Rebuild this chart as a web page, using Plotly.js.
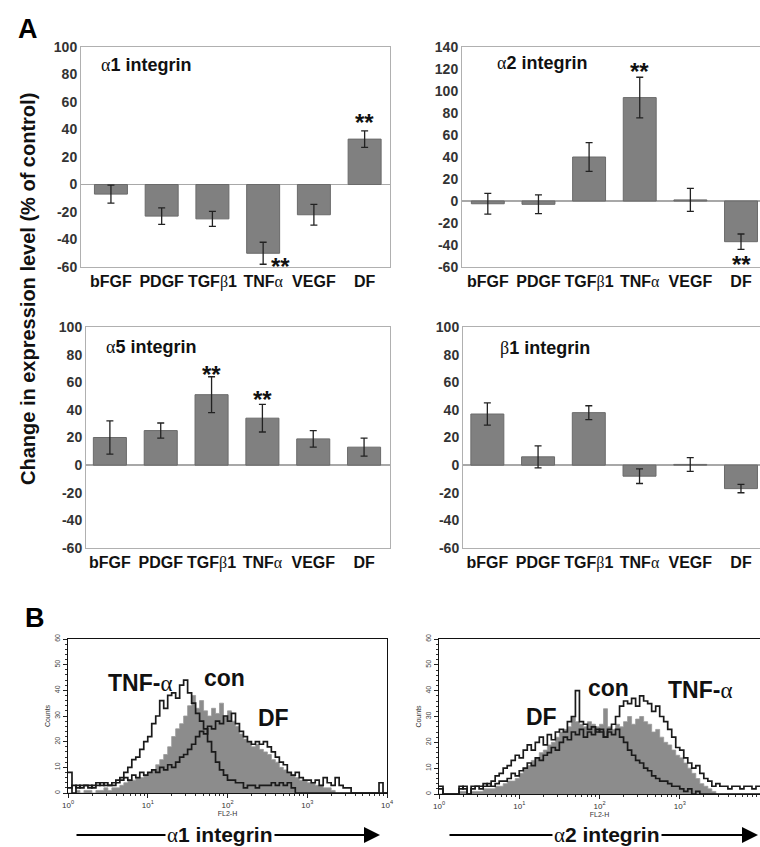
<!DOCTYPE html>
<html><head><meta charset="utf-8">
<script src="https://cdn.plot.ly/plotly-3.0.1.min.js"></script>
<style>html,body{margin:0;padding:0;background:#fff}#chart{width:760px;height:847px}</style>
</head><body><div id="chart"></div>
<script>
// ---------- Panel A data ----------
const SERIF = 'font-family:Liberation Serif,Times New Roman,serif;font-weight:normal';
const categories = ['bFGF','PDGF','TGF<span style="'+SERIF+'">β</span>1','TNF<span style="'+SERIF+'">α</span>','VEGF','DF'];
const a1Values = [-7, -23, -25, -50, -22, 33];
const a1Errors = [6.5, 6, 5.5, 8, 7.5, 6];
const a2Values = [-2.5, -3, 40, 94, 1, -37];
const a2Errors = [9.5, 8.5, 13, 18.5, 10.5, 7];
const a5Values = [20, 25, 51, 34, 19, 13];
const a5Errors = [12, 5.5, 13, 10, 6, 6.5];
const b1Values = [37, 6, 38, -8, 0.5, -17];
const b1Errors = [8, 8, 5, 5.3, 5, 3];
const tickVals100 = [-60,-40,-20,0,20,40,60,80,100];
const tickText100 = ['-60','-40','-20','0','20','40','60','80','100'];
const tickVals140 = [-60,-40,-20,0,20,40,60,80,100,120,140];
const tickText140 = ['-60','-40','-20','0','20','40','60','80','100','120','140'];

// ---------- Panel B data (log10 channel position, counts) ----------
const binLog = [0.00,0.05,0.10,0.15,0.20,0.25,0.30,0.35,0.40,0.45,0.50,0.55,0.60,0.65,0.70,0.75,0.80,0.85,0.90,0.95,
1.00,1.05,1.10,1.15,1.20,1.25,1.30,1.35,1.40,1.45,1.50,1.55,1.60,1.65,1.70,1.75,1.80,1.85,1.90,1.95,
2.00,2.05,2.10,2.15,2.20,2.25,2.30,2.35,2.40,2.45,2.50,2.55,2.60,2.65,2.70,2.75,2.80,2.85,2.90,2.95,
3.00,3.05,3.10,3.15,3.20,3.25,3.30,3.35,3.40,3.45,3.50,3.55,3.60,3.65,3.70,3.75,3.80,3.85,3.90,3.95,4.00];
const a1Tnf = [8,0,3,2,3,3,2,3,4,3, 3,4,5,6,8,10,13,14,17,20, 22,27,30,36,33,38,39,37,42,44,
39,35,31,28,25,20,16,12,9,7, 5,5,4,4,2,3,3,2,3,3, 3,4,3,4,3,4,2,0,0,0, 0,0,0,0,0,0,0,0,0,0, 0,0,0,0,0,0,0,0,0,0,0];
const a1Con = [0,0,1,0,1,1,0,1,1,2, 1,2,2,3,4,5,5,6,6,7, 8,9,11,13,15,18,22,25,27,30,
34,38,33,36,32,30,33,31,35,30, 32,28,26,23,21,20,18,19,17,16, 15,13,12,10,9,8,7,6,5,5, 4,4,3,3,2,2,1,0,0,0, 0,0,0,0,0,0,0,0,0,0,0];
const a1Df = [2,3,2,3,3,2,3,4,3,4, 3,3,4,5,6,5,7,6,8,7, 8,9,8,10,9,11,10,12,14,15,
17,19,22,24,23,26,25,28,27,30, 28,31,27,24,22,20,19,20,19,20, 18,16,14,12,11,8,7,8,6,5, 5,4,5,3,6,4,3,6,3,2, 2,0,0,0,0,0,0,0,4,0,0];
const a2Df = [3,0,0,0,0,2,3,0,2,3, 3,4,3,5,7,8,10,11,13,15, 14,17,19,17,20,22,19,23,21,24,
25,24,28,30,40,28,27,25,26,24, 25,22,24,23,25,22,20,17,15,13, 12,10,9,7,6,5,5,4,3,3, 2,1,2,0,1,0,0,0,0,0, 0,0,0,0,0,0,0,0,0,0,0];
const a2Con = [0,0,0,0,0,1,1,0,1,1, 1,2,2,2,3,3,4,5,5,6, 8,10,11,13,14,16,17,19,20,22,
24,25,26,30,28,27,26,28,27,26, 27,33,26,25,27,26,28,30,27,29, 30,28,27,24,25,22,20,19,17,15, 14,12,10,8,6,4,3,2,1,0, 0,0,0,0,0,0,0,0,0,0,0];
const a2Tnf = [2,0,0,0,0,3,2,0,3,3, 2,3,4,3,4,5,5,6,8,7, 9,10,12,11,14,13,15,16,18,17,
20,22,21,24,23,25,22,24,23,25, 24,22,25,27,30,34,36,35,37,34, 38,36,35,32,34,30,28,25,22,18, 17,14,12,10,11,8,6,5,3,4, 3,3,2,3,3,2,3,3,2,3,3];
const decadeVals = [1, 10, 100, 1000, 10000];
const decadeText = ['10<sup>0</sup>','10<sup>1</sup>','10<sup>2</sup>','10<sup>3</sup>','10<sup>4</sup>'];
const minorVals = [2,3,4,5,6,7,8,9,20,30,40,50,60,70,80,90,200,300,400,500,600,700,800,900,2000,3000,4000,5000,6000,7000,8000,9000];
const countTicks = [0,10,20,30,40,50,60];

// ---------- helpers ----------
const W = 760, H = 847;
const px = v => v / W;
const py = v => 1 - v / H;
const FONT = 'Arial, Liberation Sans, sans-serif';
const idx = [0,1,2,3,4,5];
const chan = binLog.map(v => Math.pow(10, v));

function barTrace(vals, errs, xa, ya) {
  return {type:'bar', x: idx, y: vals, xaxis: xa, yaxis: ya, width: 0.65,
    marker:{color:'#808080', line:{color:'#6a6a6a', width:1}},
    error_y:{type:'data', array: errs, visible:true, color:'#222', thickness:1.3, width:3.5},
    hoverinfo:'skip', showlegend:false};
}
function histLine(y, xa, ya) {
  return {type:'scatter', mode:'lines', x: chan, y: y, xaxis: xa, yaxis: ya,
    line:{shape:'hv', color:'#1a1a1a', width:1.7}, hoverinfo:'skip', showlegend:false};
}
function histFill(y, xa, ya) {
  return {type:'scatter', mode:'lines', x: chan, y: y, xaxis: xa, yaxis: ya, fill:'tozeroy',
    fillcolor:'#8c8c8c', line:{shape:'hv', color:'#9a9a9a', width:0.8}, hoverinfo:'skip', showlegend:false};
}

const data = [
  barTrace(a1Values, a1Errors, 'x', 'y'),
  barTrace(a2Values, a2Errors, 'x2', 'y2'),
  barTrace(a5Values, a5Errors, 'x3', 'y3'),
  barTrace(b1Values, b1Errors, 'x4', 'y4'),
  histFill(a1Con, 'x5', 'y5'), histLine(a1Tnf, 'x5', 'y5'), histLine(a1Df, 'x5', 'y5'),
  histFill(a2Con, 'x6', 'y6'), histLine(a2Df, 'x6', 'y6'), histLine(a2Tnf, 'x6', 'y6')
];

function barX(d0, d1, r0, r1, anchor) {
  return {domain:[px(d0), px(d1)], range:[r0, r1], anchor: anchor, tickvals: idx, ticktext: categories,
    tickfont:{family: FONT, size: 16, color:'#111', weight:'bold'}, ticks:'', showgrid:false, zeroline:false,
    showline:true, mirror:true, linecolor:'#b0b0b0', linewidth:1, fixedrange:true};
}
function barY(d0, d1, r0, r1, anchor, tv, tt) {
  return {domain:[py(d1), py(d0)], range:[r0, r1], anchor: anchor, tickvals: tv, ticktext: tt,
    tickfont:{family: FONT, size: 14, color:'#333', weight:'bold'}, ticks:'', showgrid:false,
    zeroline:true, zerolinecolor:'#a8a8a8', zerolinewidth:1.5,
    showline:true, mirror:true, linecolor:'#b0b0b0', linewidth:1, fixedrange:true};
}
function histX(d0, d1, anchor) {
  return {domain:[px(d0), px(d1)], type:'log', range:[0, 4], anchor: anchor,
    tickvals: decadeVals, ticktext: decadeText, ticks:'outside', ticklen:4, tickcolor:'#222',
    tickfont:{family: FONT, size: 8, color:'#333'},
    minor:{tickmode:'array', tickvals: minorVals, ticks:'outside', ticklen:2, tickcolor:'#333'},
    title:{text:'FL2-H', font:{family: FONT, size: 7, color:'#333'}, standoff: 0},
    showgrid:false, zeroline:false, showline:true, mirror:true, linecolor:'#111', linewidth:1.2, fixedrange:true};
}
function histY(d0, d1, anchor) {
  return {domain:[py(d1), py(d0)], range:[0, 60], anchor: anchor,
    tickvals: countTicks, ticks:'outside', ticklen:4, tickcolor:'#222', tickangle:-90,
    tickfont:{family: FONT, size: 7, color:'#444'},
    minor:{dtick: 2, ticks:'outside', ticklen:2, tickcolor:'#333'},
    title:{text:'Counts', font:{family: FONT, size: 7, color:'#333'}, standoff: 2},
    showgrid:false, zeroline:false, showline:true, mirror:true, linecolor:'#111', linewidth:1.2, fixedrange:true};
}

const titleFont = {family: FONT, size: 18, color:'#111', weight:'bold'};
function paperText(text, x, y, font, extra) {
  return Object.assign({xref:'paper', yref:'paper', x: px(x), y: py(y), text: text, showarrow:false,
    xanchor:'center', yanchor:'middle', font: font}, extra || {});
}
const starFont = {family: FONT, size: 24, color:'#111', weight:'bold'};
function star(xa, ya, x, y) {
  return {xref: xa, yref: ya, x: x, y: y, text:'**', showarrow:false, font: starFont,
    xanchor:'center', yanchor:'middle', yshift:-5};
}
const labFont = {family: FONT, size: 23, color:'#111', weight:'bold'};
const arrowFont = {family: FONT, size: 21, color:'#111', weight:'bold'};
const alpha = '<span style="'+SERIF+'">α</span>';
const beta = '<span style="'+SERIF+'">β</span>';

const annotations = [
  paperText('A', 28, 29, {family: FONT, size: 27, color:'#000', weight:'bold'}),
  paperText('B', 35, 618, {family: FONT, size: 27, color:'#000', weight:'bold'}),
  paperText('Change in expression level (% of control)', 28, 289, {family: FONT, size: 20, color:'#111', weight:'bold'}, {textangle:-90}),
  paperText(alpha+'1 integrin', 146, 65, titleFont),
  paperText(alpha+'2 integrin', 542, 63, titleFont),
  paperText(alpha+'5 integrin', 151, 347, titleFont),
  paperText(beta+'1 integrin', 545, 348, titleFont),
  star('x','y', 5, 49), star('x','y', 3.34, -56),
  star('x2','y2', 3, 122), star('x2','y2', 5, -53),
  star('x3','y3', 2, 69.5), star('x3','y3', 3, 51),
  paperText('TNF-'+alpha, 140, 683, labFont),
  paperText('con', 225, 678, labFont),
  paperText('DF', 273, 718, labFont),
  paperText('DF', 541, 717, labFont),
  paperText('con', 608, 688, labFont),
  paperText('TNF-'+alpha, 700, 690, labFont),
  // arrows
  {xref:'paper', yref:'paper', x: px(380), y: py(835), ax: px(75), ay: py(835), axref:'paper', ayref:'paper',
    text:'', showarrow:true, arrowhead:2, arrowsize:1.6, arrowwidth:2, arrowcolor:'#000'},
  {xref:'paper', yref:'paper', x: px(758), y: py(835), ax: px(448), ay: py(835), axref:'paper', ayref:'paper',
    text:'', showarrow:true, arrowhead:2, arrowsize:1.6, arrowwidth:2, arrowcolor:'#000'},
  paperText(alpha+'1 integrin', 220, 835, arrowFont, {bgcolor:'#fff'}),
  paperText(alpha+'2 integrin', 607, 835, arrowFont, {bgcolor:'#fff'})
];

const layout = {
  width: W, height: H, margin:{l:0, r:0, t:0, b:0}, paper_bgcolor:'#fff', plot_bgcolor:'#fff',
  showlegend:false, bargap:0.35, font:{family: FONT},
  xaxis:  barX(81, 390, -0.59, 5.5, 'y'),
  yaxis:  barY(47, 267, -60, 100, 'x', tickVals100, tickText100),
  xaxis2: barX(462, 760, -0.51, 5.375, 'y2'),
  yaxis2: barY(47, 267, -60, 140, 'x2', tickVals140, tickText140),
  xaxis3: barX(86, 390, -0.47, 5.51, 'y3'),
  yaxis3: barY(327, 548, -60, 100, 'x3', tickVals100, tickText100),
  xaxis4: barX(463, 760, -0.48, 5.375, 'y4'),
  yaxis4: barY(327, 548, -60, 100, 'x4', tickVals100, tickText100),
  xaxis5: histX(68, 387, 'y5'),
  yaxis5: histY(639, 793, 'x5'),
  xaxis6: histX(439, 760, 'y6'),
  yaxis6: histY(639, 794, 'x6'),
  annotations: annotations
};

Plotly.newPlot('chart', data, layout, {staticPlot:true, displayModeBar:false});
</script>
</body></html>
